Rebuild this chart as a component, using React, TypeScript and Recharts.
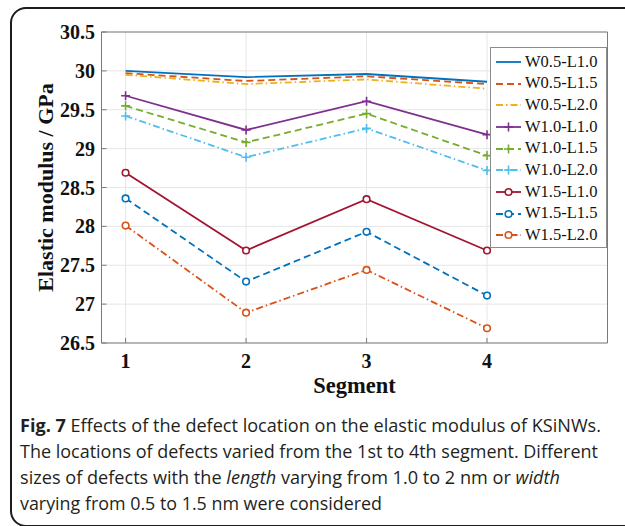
import { CartesianGrid, Legend, Line, LineChart, XAxis, YAxis } from "recharts";

// Defect position along the wire (segment index) and modulus per defect size, in GPa
const segments = [1, 2, 3, 4];
const w05l10 = [30.0, 29.92, 29.96, 29.86];
const w05l15 = [29.97, 29.87, 29.93, 29.83];
const w05l20 = [29.95, 29.83, 29.89, 29.77];
const w10l10 = [29.68, 29.24, 29.61, 29.18];
const w10l15 = [29.55, 29.08, 29.45, 28.91];
const w10l20 = [29.42, 28.89, 29.26, 28.72];
const w15l10 = [28.69, 27.69, 28.35, 27.69];
const w15l15 = [28.36, 27.29, 27.93, 27.11];
const w15l20 = [28.01, 26.89, 27.44, 26.69];

const segmentTicks = [1, 2, 3, 4];
const modulusTicks = [26.5, 27, 27.5, 28, 28.5, 29, 29.5, 30, 30.5];

const SOLID = undefined;
const DASHED = "7 4";
const DASHDOT = "7 3 1.5 3";

const series = [
  { key: "w05l10", name: "W0.5-L1.0", values: w05l10, color: "#0072BD", dash: SOLID, marker: "none" },
  { key: "w05l15", name: "W0.5-L1.5", values: w05l15, color: "#D95319", dash: DASHED, marker: "none" },
  { key: "w05l20", name: "W0.5-L2.0", values: w05l20, color: "#EDB120", dash: DASHDOT, marker: "none" },
  { key: "w10l10", name: "W1.0-L1.0", values: w10l10, color: "#7E2F8E", dash: SOLID, marker: "plus" },
  { key: "w10l15", name: "W1.0-L1.5", values: w10l15, color: "#77AC30", dash: DASHED, marker: "plus" },
  { key: "w10l20", name: "W1.0-L2.0", values: w10l20, color: "#4DBEEE", dash: DASHDOT, marker: "plus" },
  { key: "w15l10", name: "W1.5-L1.0", values: w15l10, color: "#A2142F", dash: SOLID, marker: "circle" },
  { key: "w15l15", name: "W1.5-L1.5", values: w15l15, color: "#0072BD", dash: DASHED, marker: "circle" },
  { key: "w15l20", name: "W1.5-L2.0", values: w15l20, color: "#D95319", dash: DASHDOT, marker: "circle" },
];

const rows = segments.map((seg, i) => {
  const row: Record<string, number> = { seg };
  series.forEach((s) => (row[s.key] = s.values[i]));
  return row;
});

const SERIF = '"Liberation Serif", "Times New Roman", serif';
const AXIS = "#7a7a7a";
const tickStyle = { fill: "#111", fontSize: 20, fontFamily: SERIF, fontWeight: 700 };

function Marker({ kind, x, y, color }: { kind: string; x: number; y: number; color: string }) {
  if (kind === "plus") {
    return <path d={`M${x - 4.5},${y}H${x + 4.5}M${x},${y - 4.5}V${y + 4.5}`} stroke={color} strokeWidth={1.6} fill="none" />;
  }
  if (kind === "circle") {
    return <circle cx={x} cy={y} r={3.3} stroke={color} strokeWidth={1.6} fill="#fff" />;
  }
  return null;
}

function dotFor(kind: string, color: string) {
  return (props: any) => (
    <g key={`${kind}-${color}-${props.index}`}>
      <Marker kind={kind} x={props.cx} y={props.cy} color={color} />
    </g>
  );
}

function LegendBox() {
  return (
    <div style={{ width: 115, height: 196, border: "1px solid #8c8c8c", background: "#fff", paddingTop: 3 }}>
      {series.map((s) => (
        <div key={s.key} style={{ display: "flex", alignItems: "center", height: 21.7 }}>
          <svg width={31} height={12} style={{ flex: "none" }}>
            <line x1={5} x2={30} y1={6} y2={6} stroke={s.color} strokeWidth={1.8} strokeDasharray={s.dash} />
            <Marker kind={s.marker} x={17.5} y={6} color={s.color} />
          </svg>
          <span style={{ fontFamily: SERIF, fontSize: 16.5, color: "#111", marginLeft: 3, lineHeight: 1 }}>{s.name}</span>
        </div>
      ))}
    </div>
  );
}

const captionFont = '"Open Sans", "Noto Sans", sans-serif';

function Caption() {
  return (
    <svg width={625} height={126} style={{ position: "absolute", left: 0, top: 400 }}>
      <g fontFamily={captionFont} fontSize={17.5} fill="#231f20">
        <text x={20} y={31.5} textLength={581} lengthAdjust="spacingAndGlyphs">
          <tspan fontWeight={700}>Fig. 7</tspan> Effects of the defect location on the elastic modulus of KSiNWs.
        </text>
        <text x={20} y={57.5} textLength={578} lengthAdjust="spacingAndGlyphs">
          The locations of defects varied from the 1st to 4th segment. Different
        </text>
        <text x={20} y={83.5} textLength={540} lengthAdjust="spacingAndGlyphs">
          sizes of defects with the <tspan fontStyle="italic">length</tspan> varying from 1.0 to 2 nm or{" "}
          <tspan fontStyle="italic">width</tspan>
        </text>
        <text x={20} y={109.5} textLength={362} lengthAdjust="spacingAndGlyphs">
          varying from 0.5 to 1.5 nm were considered
        </text>
      </g>
    </svg>
  );
}

export default function App() {
  return (
    <div style={{ position: "absolute", left: 0, top: 0, width: 625, height: 526, overflow: "hidden", background: "#fff" }}>
      <div
        style={{
          position: "absolute",
          left: 10,
          top: 7,
          width: 640,
          height: 516,
          border: "2px solid #1c1c1c",
          borderRadius: 16,
        }}
      />
      <div style={{ position: "absolute", left: 0, top: 0 }}>
        <LineChart width={625} height={400} data={rows} margin={{ top: 31, right: 16.5, bottom: 0, left: 0 }}>
          <CartesianGrid stroke="#e6e6e6" strokeWidth={1} />
          <XAxis
            dataKey="seg"
            type="number"
            domain={[0.8, 5]}
            ticks={segmentTicks}
            height={57}
            stroke={AXIS}
            tickSize={-5}
            tickMargin={16}
            tick={tickStyle}
            label={{ value: "Segment", position: "insideBottom", offset: 7, fill: "#111", fontSize: 22.5, fontFamily: SERIF, fontWeight: 700 }}
          />
          <XAxis xAxisId="top" orientation="top" type="number" domain={[0.8, 5]} ticks={segmentTicks} height={1} stroke={AXIS} tickSize={-5} tick={false} />
          <YAxis
            type="number"
            domain={[26.5, 30.5]}
            ticks={modulusTicks}
            width={101.5}
            stroke={AXIS}
            tickSize={-5}
            tickMargin={11.5}
            tick={tickStyle}
            label={{
              value: "Elastic modulus / GPa",
              angle: -90,
              position: "insideLeft",
              offset: 45,
              fill: "#111",
              fontSize: 22,
              fontFamily: SERIF,
              fontWeight: 700,
              style: { textAnchor: "middle" },
            }}
          />
          <YAxis yAxisId="right" orientation="right" type="number" domain={[26.5, 30.5]} ticks={modulusTicks} width={1} stroke={AXIS} tickSize={-5} tick={false} />
          <Legend
            layout="horizontal"
            align="center"
            verticalAlign="middle"
            content={<LegendBox />}
            wrapperStyle={{ left: 490, top: 47, width: 118, height: 200 }}
          />
          {series.map((s) => (
            <Line
              key={s.key}
              type="linear"
              dataKey={s.key}
              name={s.name}
              stroke={s.color}
              strokeWidth={1.8}
              strokeDasharray={s.dash}
              dot={dotFor(s.marker, s.color)}
              activeDot={false}
              isAnimationActive={false}
            />
          ))}
        </LineChart>
      </div>
      <Caption />
    </div>
  );
}
